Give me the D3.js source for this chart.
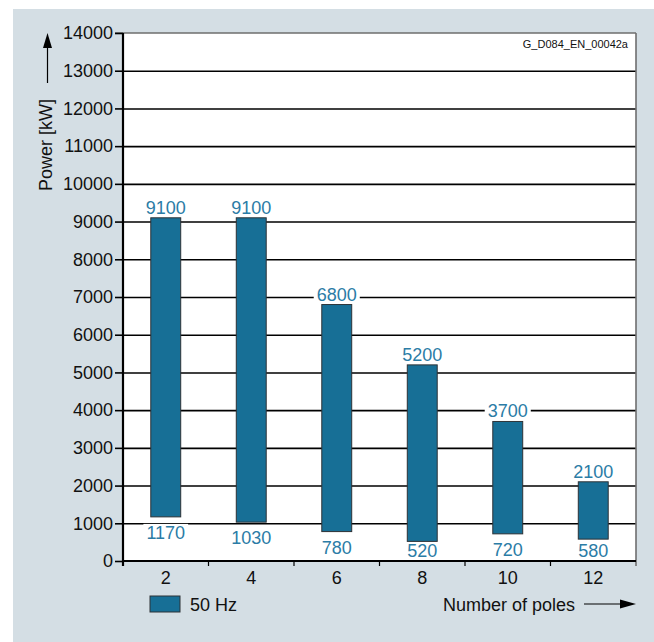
<!DOCTYPE html>
<html>
<head>
<meta charset="utf-8">
<script src="https://cdn.jsdelivr.net/npm/d3@7"></script>
<style>
  html, body { margin: 0; padding: 0; background: #ffffff; }
  svg text { font-family: "Liberation Sans", Arial, sans-serif; }
</style>
</head>
<body>
<div id="chart"></div>
<script>
// Power range per pole count (50 Hz)
const poles = ["2", "4", "6", "8", "10", "12"];
const powerMax = [9100, 9100, 6800, 5200, 3700, 2100];
const powerMin = [1170, 1030, 780, 520, 720, 580];
const yTicks = [0, 1000, 2000, 3000, 4000, 5000, 6000, 7000, 8000, 9000, 10000, 11000, 12000, 13000, 14000];
const seriesName = "50 Hz";
const docId = "G_D084_EN_00042a";

const W = 654, H = 642;
const plot = { left: 123, right: 636, top: 33, bottom: 561 };
const barColor = "#176f96";
const labelColor = "#2b7ca6";

const svg = d3.select("#chart").append("svg")
  .attr("width", W).attr("height", H);

// panel background
svg.append("rect")
  .attr("x", 13).attr("y", 9)
  .attr("width", W - 13).attr("height", H - 9)
  .attr("fill", "#d4dee4");

// plot area
svg.append("rect")
  .attr("x", plot.left).attr("y", plot.top)
  .attr("width", plot.right - plot.left).attr("height", plot.bottom - plot.top)
  .attr("fill", "#ffffff");

const x = d3.scaleBand().domain(poles).range([plot.left, plot.right]);
const y = d3.scaleLinear().domain([0, 14000]).range([plot.bottom, plot.top]);
const barW = x.bandwidth() * 0.35;

const rows = poles.map((p, i) => ({ p, max: powerMax[i], min: powerMin[i] }));

// horizontal grid lines
const grid = svg.append("g")
  .attr("transform", `translate(${plot.left},0)`)
  .call(d3.axisLeft(y).tickValues(yTicks.filter(v => v > 0 && v < 14000))
    .tickSize(-(plot.right - plot.left)).tickFormat(""));
grid.select(".domain").remove();
grid.selectAll(".tick line").attr("stroke", "#000").attr("stroke-width", 1.6);

// top border
svg.append("line")
  .attr("x1", plot.left - 8).attr("x2", plot.right)
  .attr("y1", y(14000)).attr("y2", y(14000))
  .attr("stroke", "#6e6e6e").attr("stroke-width", 1.6);
// right border
svg.append("line")
  .attr("x1", plot.right).attr("x2", plot.right)
  .attr("y1", plot.top).attr("y2", plot.bottom + 5)
  .attr("stroke", "#6e6e6e").attr("stroke-width", 1.6);

// bars
svg.append("g").selectAll("rect").data(rows).join("rect")
  .attr("x", d => x(d.p) + (x.bandwidth() - barW) / 2)
  .attr("width", barW)
  .attr("y", d => y(d.max))
  .attr("height", d => y(d.min) - y(d.max))
  .attr("fill", barColor)
  .attr("stroke", "#2d3236")
  .attr("stroke-width", 1);

// value labels with white boxes; lower labels stay above the x axis
function valueLabels(key, offset, maxBaseline) {
  const g = svg.append("g");
  rows.forEach(d => {
    const cx = x(d.p) + x.bandwidth() / 2;
    const by = Math.min(y(d[key]) + offset, maxBaseline);
    const grp = g.append("g");
    const box = grp.append("rect").attr("fill", "#ffffff");
    const t = grp.append("text")
      .attr("x", cx).attr("y", by)
      .attr("text-anchor", "middle")
      .attr("font-size", 18)
      .attr("fill", labelColor)
      .text(d[key]);
    const bb = t.node().getBBox();
    box.attr("x", bb.x - 3).attr("y", by - 15)
      .attr("width", bb.width + 6).attr("height", 18);
  });
}
valueLabels("max", -4, Infinity);
valueLabels("min", 22, 557);

// y axis
const yAxis = svg.append("g")
  .attr("transform", `translate(${plot.left},0)`)
  .call(d3.axisLeft(y).tickValues(yTicks).tickSize(8).tickPadding(2).tickFormat(d3.format("d")));
yAxis.select(".domain").remove();
yAxis.selectAll(".tick line").attr("stroke", "#000").attr("stroke-width", 1.6);
yAxis.selectAll(".tick text").attr("font-size", 18).attr("fill", "#111")
  .attr("font-family", "Liberation Sans, Arial, sans-serif");
svg.append("line")
  .attr("x1", plot.left).attr("x2", plot.left)
  .attr("y1", plot.top).attr("y2", plot.bottom + 5)
  .attr("stroke", "#000").attr("stroke-width", 2.2);

// x axis with ticks at band boundaries
svg.append("line")
  .attr("x1", plot.left).attr("x2", plot.right)
  .attr("y1", plot.bottom).attr("y2", plot.bottom)
  .attr("stroke", "#000").attr("stroke-width", 2);
svg.append("g").selectAll("line").data(poles.slice(1)).join("line")
  .attr("x1", d => x(d)).attr("x2", d => x(d))
  .attr("y1", plot.bottom).attr("y2", plot.bottom + 5)
  .attr("stroke", "#000").attr("stroke-width", 1.2);
svg.append("g").selectAll("text").data(poles).join("text")
  .attr("x", d => x(d) + x.bandwidth() / 2)
  .attr("y", 584)
  .attr("text-anchor", "middle")
  .attr("font-size", 18)
  .attr("fill", "#111")
  .text(d => d);

// document id
svg.append("text")
  .attr("x", 628).attr("y", 48)
  .attr("text-anchor", "end")
  .attr("font-size", 11)
  .attr("fill", "#111")
  .text(docId);

// y axis title with arrow
svg.append("text")
  .attr("transform", "translate(52,145) rotate(-90)")
  .attr("text-anchor", "middle")
  .attr("font-size", 18)
  .attr("fill", "#111")
  .text("Power [kW]");
svg.append("line")
  .attr("x1", 47.5).attr("x2", 47.5).attr("y1", 83).attr("y2", 46)
  .attr("stroke", "#000").attr("stroke-width", 1.2);
svg.append("path")
  .attr("d", "M47.5,33 L43,48 L52,48 Z")
  .attr("fill", "#000");

// x axis title with arrow
svg.append("text")
  .attr("x", 575).attr("y", 611)
  .attr("text-anchor", "end")
  .attr("font-size", 18)
  .attr("fill", "#111")
  .text("Number of poles");
svg.append("line")
  .attr("x1", 584).attr("x2", 622).attr("y1", 604).attr("y2", 604)
  .attr("stroke", "#000").attr("stroke-width", 1.2);
svg.append("path")
  .attr("d", "M636,604 L620,599.5 L620,608.5 Z")
  .attr("fill", "#000");

// legend
svg.append("rect")
  .attr("x", 150).attr("y", 596).attr("width", 30).attr("height", 16)
  .attr("fill", barColor).attr("stroke", "#2d3236").attr("stroke-width", 1);
svg.append("text")
  .attr("x", 190).attr("y", 611)
  .attr("font-size", 18)
  .attr("fill", "#111")
  .text(seriesName);
</script>
</body>
</html>
